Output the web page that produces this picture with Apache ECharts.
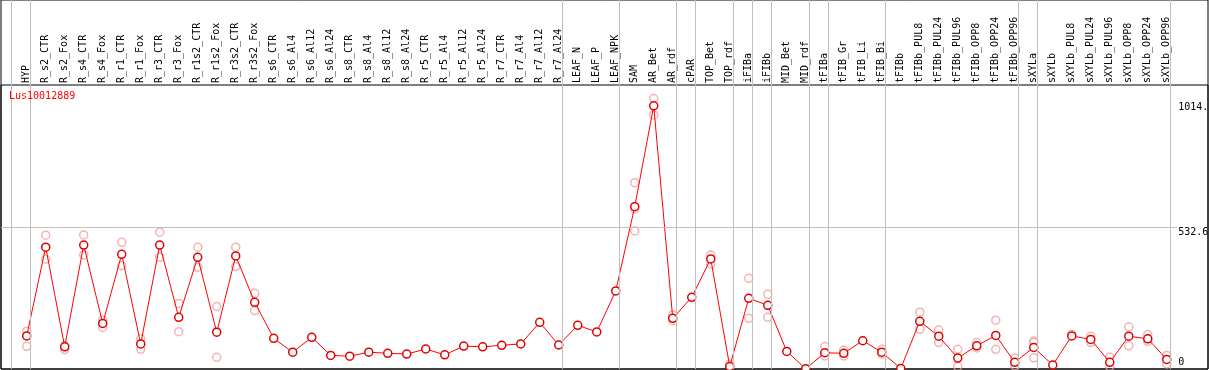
<!DOCTYPE html>
<html><head><meta charset="utf-8">
<script src="https://cdn.jsdelivr.net/npm/echarts@6/dist/echarts.min.js"></script>
<style>html,body{margin:0;padding:0;background:#fff}#c{width:1209px;height:370px}</style>
</head><body><div id="c"></div>
<script>
const geneName = 'Lus10012889';
const categories = ['HYP','R_s2_CTR','R_s2_Fox','R_s4_CTR','R_s4_Fox','R_r1_CTR','R_r1_Fox','R_r3_CTR','R_r3_Fox',
  'R_r1s2_CTR','R_r1s2_Fox','R_r3s2_CTR','R_r3s2_Fox','R_s6_CTR','R_s6_Al4','R_s6_Al12','R_s6_Al24',
  'R_s8_CTR','R_s8_Al4','R_s8_Al12','R_s8_Al24','R_r5_CTR','R_r5_Al4','R_r5_Al12','R_r5_Al24',
  'R_r7_CTR','R_r7_Al4','R_r7_Al12','R_r7_Al24','LEAF_N','LEAF_P','LEAF_NPK','SAM','AR_Bet','AR_rdf',
  'cPAR','TOP_Bet','TOP_rdf','iFIBa','iFIBb','MID_Bet','MID_rdf','tFIBa','tFIB_Gr','tFIB_Li','tFIB_Bi',
  'tFIBb','tFIBb_PUL8','tFIBb_PUL24','tFIBb_PUL96','tFIBb_OPP8','tFIBb_OPP24','tFIBb_OPP96',
  'sXYLa','sXYLb','sXYLb_PUL8','sXYLb_PUL24','sXYLb_PUL96','sXYLb_OPP8','sXYLb_OPP24','sXYLb_OPP96'];
const means = [124,457,83,465,171,430,94,465,194,419,138,424,250,115,63,119,51,48,63,59,56,75,53,86,83,
  89,94,175,90,164,139,293,609,987,190,269,413,9,265,239,66,1,61,59,106,63,2,179,123,41,87,126,25,
  81,15,124,111,25,123,113,36];
const replicates = [[142,85],[502,412],[88,73],[503,428],[184,156],[475,388],[113,74],[513,419],[246,140],
  [457,382],[234,44],[457,384],[284,219],[],[],[],[],[],[],[],[],[],[],[],[],[],[],[],[],[],[],[],
  [699,518,600],[1014.5,953],[203,181],[],[428,393],[18],[340,190],[280,194],[],[],[84,49],[71,49],[],[74,56],
  [],[213,149],[146,99],[74,9],[99,79],[183,74],[40,12],[105,42,99],[],[130],[123,99],[44,9],[158,87],[129,104],[51,19]];
const separatorsAfter = [-1,0,28,31,34,35,37,38,39,41,42,45,52,53,60];
const gridValue = 532.6;
const yLabelValues = [0, 532.6, 1014.5];
const yLabelTexts = ['0', '532.6', '1014.'];
const yMax = 1065.2;

const xMin = -1.353, xMax = 62.17;
const mono = '"DejaVu Sans Mono", "Liberation Mono", monospace';
const chart = echarts.init(document.getElementById('c'));
const repData = [];
replicates.forEach((r, i) => r.forEach(v => repData.push([i, v])));

chart.setOption({
  animation: false,
  title: {text: geneName, left: 9, top: 91, padding: 0,
    textStyle: {color: '#ff0000', fontSize: 10, fontWeight: 'normal', fontFamily: mono}},
  grid: [
    {left: 1, right: 1, top: 85, bottom: 1, show: true, borderColor: '#000', borderWidth: 1},
    {left: 26.7, right: 42.3, top: 85, bottom: 1, show: false},
    {left: 1, right: 1, top: 0, bottom: 1, show: true, borderColor: '#000', borderWidth: 1}
  ],
  xAxis: [
    {type: 'value', gridIndex: 0, min: xMin, max: xMax, show: false},
    {type: 'category', gridIndex: 1, data: categories, boundaryGap: false, position: 'top',
      axisLine: {show: false}, axisTick: {show: false}, splitLine: {show: false},
      axisLabel: {interval: 0, rotate: 90, margin: 2, fontSize: 10, fontFamily: mono, color: '#000', hideOverlap: false}},
    {type: 'value', gridIndex: 2, min: xMin, max: xMax, show: false}
  ],
  yAxis: [
    {type: 'value', gridIndex: 0, min: 0, max: yMax, show: false},
    {type: 'value', gridIndex: 1, min: 0, max: 1, show: false},
    {type: 'value', gridIndex: 2, min: 0, max: 1, show: false}
  ],
  series: [
    {type: 'line', xAxisIndex: 2, yAxisIndex: 2, data: [[xMin, 0]], showSymbol: false, silent: true,
      lineStyle: {width: 0},
      markLine: {silent: true, symbol: 'none', label: {show: false},
        lineStyle: {color: '#c0c0c0', width: 1, type: 'solid'},
        data: separatorsAfter.map(i => ({xAxis: i + 0.2}))}},
    {type: 'scatter', xAxisIndex: 0, yAxisIndex: 0, data: repData, symbol: 'circle', symbolSize: 8,
      itemStyle: {color: 'rgba(0,0,0,0)', borderColor: '#f0a0a0', borderWidth: 1.5}, z: 3},
    {type: 'line', xAxisIndex: 0, yAxisIndex: 0, data: means.map((v, i) => [i, v]),
      symbol: 'circle', symbolSize: 8, showSymbol: true,
      lineStyle: {color: '#ff0000', width: 1},
      itemStyle: {color: '#fff', borderColor: '#e00000', borderWidth: 1.5}, z: 4,
      markLine: {silent: true, symbol: 'none', label: {show: false},
        lineStyle: {color: '#c0c0c0', width: 1, type: 'solid'},
        data: [[{coord: [xMin, gridValue]}, {coord: [60.54, gridValue]}]]}}
  ]
});

const labelOffsets = [-7, 5, 9];
const texts = yLabelValues.map((v, k) => {
  const p = chart.convertToPixel({xAxisIndex: 0, yAxisIndex: 0}, [60.6, v]);
  return {type: 'text', x: p[0], y: p[1] + labelOffsets[k],
    style: {text: yLabelTexts[k], fill: '#000', font: '10px ' + mono, textAlign: 'left', textVerticalAlign: 'middle'}};
});
chart.setOption({graphic: texts});
</script></body></html>
